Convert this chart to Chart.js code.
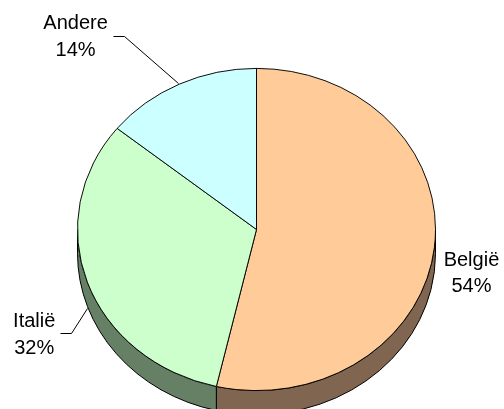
<!DOCTYPE html>
<html><head><meta charset="utf-8">
<script src="https://cdn.jsdelivr.net/npm/chart.js@4"></script>
<style>html,body{margin:0;padding:0;background:#fff}canvas{display:block}</style>
</head><body>
<canvas id="c" width="504" height="409"></canvas>
<script>
const categories = ['België', 'Italië', 'Andere'];
const values = [53.6, 32.2, 14.2];
const topColors = ['#FFCC99', '#CCFFCC', '#CCFFFF'];
const sideColors = ['#806650', '#668066', '#668080'];

const TILT = 0.9;   // vertical squash of the pie top
const DEPTH = 24;   // thickness of the 3D side

// label placement relative to the slice's mid-angle point on the rim
const labelLayout = [
  { dx: 37.1, dy: 18.3, leader: null },
  { dx: -53.1, dy: 45.2, leader: [[-0.5, 26.2], [-16.5, 51.2], [-27.5, 51.2]] },
  { dx: -103.7, dy: -54.9, leader: [[-1, -0.9], [-55, -48.4], [-66, -48.4]] }
];

function squash(ctx, cx, cy) {
  ctx.translate(cx, cy);
  ctx.scale(1, TILT);
  ctx.translate(-cx, -cy);
}

const pie3d = {
  id: 'pie3d',
  beforeDatasetsDraw(chart) {
    const ctx = chart.ctx;
    const meta = chart.getDatasetMeta(0);
    ctx.save();
    meta.data.forEach((arc, i) => {
      const cx = arc.x, cy = arc.y, r = arc.outerRadius, ry = r * TILT;
      const a = Math.max(arc.startAngle, 0), b = Math.min(arc.endAngle, Math.PI);
      if (b <= a) return;
      ctx.beginPath();
      ctx.ellipse(cx, cy, r, ry, 0, a, b, false);
      ctx.lineTo(cx + r * Math.cos(b), cy + DEPTH + ry * Math.sin(b));
      ctx.ellipse(cx, cy + DEPTH, r, ry, 0, b, a, true);
      ctx.closePath();
      ctx.fillStyle = sideColors[i];
      ctx.fill();
      ctx.lineWidth = 1;
      ctx.strokeStyle = '#000';
      ctx.stroke();
    });
    const a0 = meta.data[0];
    squash(ctx, a0.x, a0.y);
  },
  afterDatasetsDraw(chart) {
    chart.ctx.restore();
  },
  afterDraw(chart) {
    const ctx = chart.ctx;
    const meta = chart.getDatasetMeta(0);
    const total = values.reduce((s, v) => s + v, 0);
    ctx.save();
    ctx.font = '20px "Liberation Sans", Arial, sans-serif';
    ctx.fillStyle = '#000';
    ctx.textAlign = 'center';
    ctx.textBaseline = 'alphabetic';
    meta.data.forEach((arc, i) => {
      const m = (arc.startAngle + arc.endAngle) / 2;
      const r = arc.outerRadius;
      const ax = arc.x + r * Math.cos(m);
      const ay = arc.y + r * TILT * Math.sin(m);
      const L = labelLayout[i];
      const pct = Math.round(values[i] / total * 100) + '%';
      ctx.fillText(categories[i], ax + L.dx, ay + L.dy);
      ctx.fillText(pct, ax + L.dx, ay + L.dy + 26.5);
      if (L.leader) {
        ctx.beginPath();
        L.leader.forEach((p, j) => {
          const x = Math.round(ax + p[0]) + 0.5, y = Math.round(ay + p[1]) + 0.5;
          if (j === 0) ctx.moveTo(x, y); else ctx.lineTo(x, y);
        });
        ctx.lineWidth = 1;
        ctx.strokeStyle = '#000';
        ctx.stroke();
      }
    });
    ctx.restore();
  }
};

new Chart(document.getElementById('c'), {
  type: 'pie',
  data: {
    labels: categories,
    datasets: [{
      data: values,
      backgroundColor: topColors,
      borderColor: '#000',
      borderWidth: 1,
      clip: false
    }]
  },
  options: {
    responsive: false,
    animation: false,
    events: [],
    layout: { padding: { left: 77, right: 68, top: 50, bottom: 0 } },
    plugins: { legend: { display: false }, tooltip: { enabled: false } }
  },
  plugins: [pie3d]
});
</script>
</body></html>
